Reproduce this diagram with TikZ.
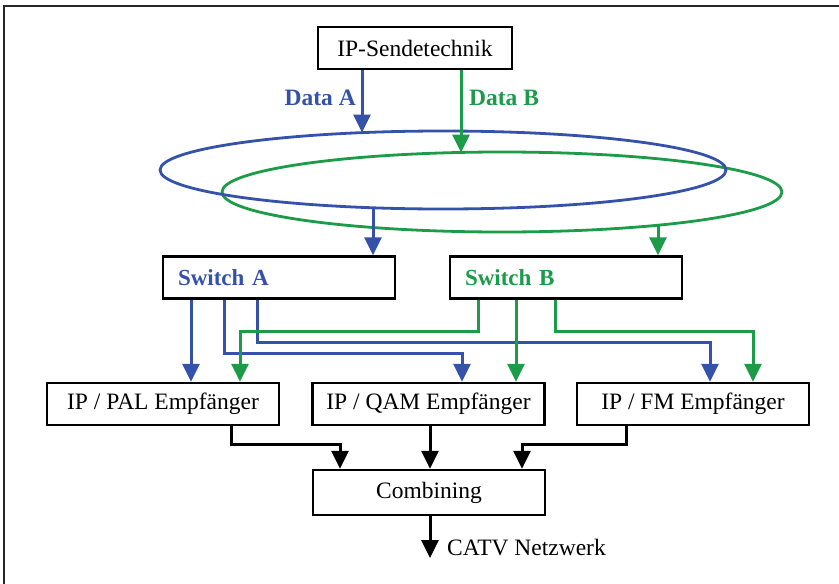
\documentclass[tikz,border=0pt]{standalone}
\usepackage{fontspec}
\setmainfont{Liberation Serif}
\usetikzlibrary{arrows.meta,shapes.geometric}
\definecolor{cA}{RGB}{52,82,170}
\definecolor{cB}{RGB}{28,155,72}
\tikzset{
  box/.style={draw=black,line width=2.4pt,fill=white,minimum height=42pt,
    minimum width=232pt,inner sep=0pt,font=\fontsize{23.5}{28}\selectfont},
  swbox/.style={box,text width=202pt,align=left,inner xsep=15pt,
    font=\fontsize{23}{28}\selectfont\bfseries},
  ring/.style={ellipse,line width=2.8pt,inner sep=0pt},
  link/.style={line width=3pt,-{Triangle[length=18pt,width=17pt]}},
  linkA/.style={link,draw=cA},
  linkB/.style={link,draw=cB},
  linkK/.style={link,draw=black},
  lbl/.style={font=\fontsize{23.5}{28}\selectfont\bfseries,inner sep=0pt}
}
\begin{document}
\begin{tikzpicture}[x=1pt,y=-1pt]
\useasboundingbox (0,0) rectangle (839,584);
% frame
\draw[line width=1.5pt,black!85] (4,584) -- (4,6) -- (839,6);
% nodes
\node[box,minimum width=194pt] (send) at (415,48) {IP-Sendetechnik};
\node[ring,draw=cB,minimum width=560pt,minimum height=80pt] (ringB) at (502,192) {};
\node[ring,draw=cA,minimum width=566pt,minimum height=78pt] (ringA) at (443,170) {};
\node[swbox,text=cA] (swA) at (279,277.5) {Switch A};
\node[swbox,text=cB] (swB) at (566,277.5) {Switch B};
\node[box] (pal) at (163,404) {IP / PAL Empfänger};
\node[box] (qam) at (428.5,404) {IP / QAM Empfänger};
\node[box] (fm) at (693,404) {IP / FM Empfänger};
\node[box,minimum height=45pt] (comb) at (429,492.5) {Combining};
\node[lbl,text=cA,anchor=east] (dA) at (356,98) {Data A};
\node[lbl,text=cB,anchor=west] (dB) at (469,98) {Data B};
\node[anchor=west,inner sep=0pt,font=\fontsize{23.5}{28}\selectfont] (catv) at (447,548) {CATV Netzwerk};
% ring contact points
\coordinate (inA) at (362,132.5);
\coordinate (inB) at (461,152.5);
\coordinate (outA) at (373,208);
\coordinate (outB) at (658,225);
\coordinate (net) at (430,558);
% sender to rings
\draw[linkA] (send.south -| 362,0) -- (inA);
\draw[linkB] (send.south -| 461,0) -- (inB);
% rings to switches
\draw[linkA] (outA) -- (swA.north -| outA);
\draw[linkB] (outB) -- (swB.north -| outB);
% switch A
\draw[linkA] (swA.south -| 191,0) -- (pal.north -| 191,0);
\draw[linkA] (swA.south -| 224,0) |- (462,353) -- (qam.north -| 462,0);
\draw[linkA] (swA.south -| 257,0) |- (710,342) -- (fm.north -| 710,0);
% switch B
\draw[linkB] (swB.south -| 478,0) |- (240,331) -- (pal.north -| 240,0);
\draw[linkB] (swB.south -| 516,0) -- (qam.north -| 516,0);
\draw[linkB] (swB.south -| 555,0) |- (753,331) -- (fm.north -| 753,0);
% receivers to combining
\draw[linkK] (pal.south -| 231,0) |- (340,444) -- (comb.north -| 340,0);
\draw[linkK] (qam.south -| 430,0) -- (comb.north -| 430,0);
\draw[linkK] (fm.south -| 626,0) |- (522,444) -- (comb.north -| 522,0);
\draw[linkK] (comb.south -| net) -- (net);
\end{tikzpicture}
\end{document}
